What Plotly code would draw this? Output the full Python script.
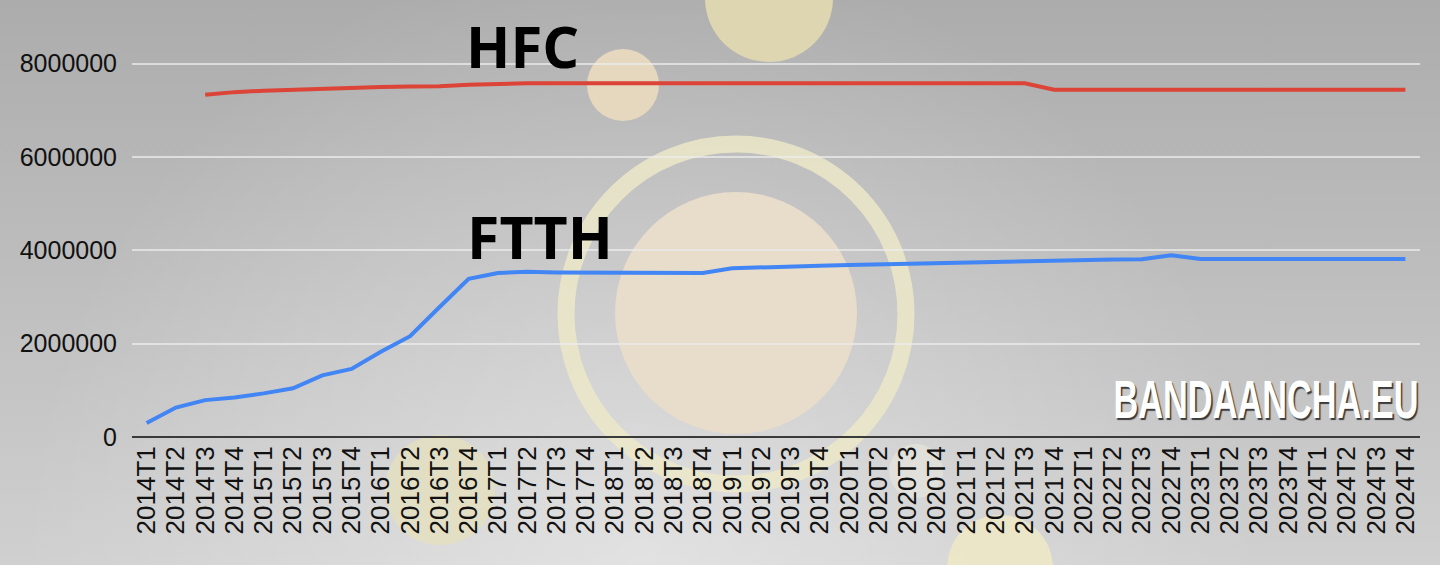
import base64
import plotly.graph_objects as go

# ---------------- data ----------------
quarters = [f"{y}T{q}" for y in range(2014, 2025) for q in range(1, 5)]

ftth = [300000, 630000, 790000, 845000, 935000, 1045000, 1320000, 1460000,
        1825000, 2160000, 2780000, 3390000, 3515000, 3540000, 3525000, 3525000,
        3525000, 3525000, 3520000, 3515000, 3615000, 3640000, 3655000, 3670000,
        3685000, 3700000, 3720000, 3735000, 3745000, 3760000, 3770000, 3790000,
        3800000, 3805000, 3810000, 3895000, 3815000, 3815000, 3815000, 3815000,
        3815000, 3815000, 3815000, 3815000]

hfc = [None, None, 7335000, 7390000, 7420000, 7445000, 7465000, 7485000,
       7500000, 7510000, 7515000, 7550000, 7570000, 7580000, 7580000, 7580000,
       7580000, 7580000, 7580000, 7580000, 7580000, 7580000, 7580000, 7580000,
       7580000, 7580000, 7580000, 7580000, 7580000, 7580000, 7580000, 7440000,
       7440000, 7440000, 7440000, 7440000, 7440000, 7440000, 7440000, 7440000,
       7440000, 7440000, 7440000, 7440000]

y_ticks = [0, 2000000, 4000000, 6000000, 8000000]

# ---------------- layout geometry ----------------
W, H = 1440, 565
ML, MR, MT, MB = 132, 20, 17, 128
PW, PH = W - ML - MR, H - MT - MB


def px(x):
    return (x - ML) / PW


def py(y):
    return (H - MB - y) / PH


# background gradient as an inline svg
svg = (
    "<svg xmlns='http://www.w3.org/2000/svg' width='1440' height='565'>"
    "<defs>"
    "<linearGradient id='v' x1='0' y1='0' x2='0' y2='1'>"
    "<stop offset='0' stop-color='#acacac'/><stop offset='1' stop-color='#d0d0d0'/>"
    "</linearGradient>"
    "<radialGradient id='r' cx='640' cy='560' r='620' gradientUnits='userSpaceOnUse'>"
    "<stop offset='0' stop-color='#ffffff' stop-opacity='0.38'/>"
    "<stop offset='1' stop-color='#ffffff' stop-opacity='0'/>"
    "</radialGradient>"
    "</defs>"
    "<rect width='1440' height='565' fill='url(#v)'/>"
    "<rect width='1440' height='565' fill='url(#r)'/>"
    "</svg>"
)
bg_src = "data:image/svg+xml;base64," + base64.b64encode(svg.encode()).decode()

fig = go.Figure()

fig.add_trace(go.Scatter(x=quarters, y=hfc, mode="lines", name="HFC",
                         line=dict(color="#db4437", width=4), connectgaps=False))
fig.add_trace(go.Scatter(x=quarters, y=ftth, mode="lines", name="FTTH",
                         line=dict(color="#4285f4", width=4)))

# decorative circles (pixel centre x, centre y, radius, fill, line colour, line width)
decor = [
    (769, -2, 64, "#ddd6b0", None, 0),
    (623, 85, 36, "#e6d7bf", None, 0),
    (736, 313, 121, "#e8dccb", None, 0),
    (736, 314, 170, None, "rgba(236,232,200,0.85)", 17),
    (440, 490, 55, "rgba(230,224,190,0.75)", None, 0),
    (1000, 568, 53, "rgba(238,232,200,0.9)", None, 0),
    (916, 471, 27, "rgba(240,238,225,0.45)", None, 0),
]
shapes = []
for cx, cy, r, fill, lc, lw in decor:
    shapes.append(dict(
        type="circle", xref="paper", yref="paper", layer="below",
        x0=px(cx - r), x1=px(cx + r), y0=py(cy + r), y1=py(cy - r),
        fillcolor=fill if fill else "rgba(0,0,0,0)",
        line=dict(color=lc if lc else "rgba(0,0,0,0)", width=lw),
    ))

annotations = [
    dict(text="HFC", x=px(522), y=py(46), xref="paper", yref="paper",
         showarrow=False, xanchor="center", yanchor="middle",
         font=dict(family="Open Sans", size=58, color="#000000", weight="bold")),
    dict(text="FTTH", x=px(540), y=py(236), xref="paper", yref="paper",
         showarrow=False, xanchor="center", yanchor="middle",
         font=dict(family="Open Sans", size=59, color="#000000", weight="bold")),
    dict(text="BANDAANCHA.EU", x=px(1420), y=py(399), xref="paper", yref="paper",
         showarrow=False, xanchor="right", yanchor="middle", align="right",
         font=dict(family="Liberation Sans, Arial, sans-serif", weight="bold",
                   size=54, color="#ffffff",
                   shadow="2px 2px 1px #3a3a3a")),
]

fig.update_layout(
    width=W, height=H,
    margin=dict(l=ML, r=MR, t=MT, b=MB, pad=0),
    paper_bgcolor="#bdbdbd",
    plot_bgcolor="rgba(0,0,0,0)",
    showlegend=False,
    font=dict(family="Liberation Sans, Arial, sans-serif", size=25, color="#111111"),
    images=[dict(source=bg_src, xref="paper", yref="paper",
                 x=px(0), y=py(0), sizex=W / PW, sizey=H / PH,
                 xanchor="left", yanchor="top", sizing="stretch", layer="below")],
    shapes=shapes,
    annotations=annotations,
    xaxis=dict(
        type="category", range=[-0.5, len(quarters) - 0.5],
        tickmode="array", tickvals=quarters, ticktext=quarters,
        tickangle=-90, showgrid=False, zeroline=False, showline=False,
        ticks="", tickfont=dict(size=26, color="#111111"),
        ticklabelstandoff=3,
    ),
    yaxis=dict(
        range=[0, 9000000], tickvals=y_ticks, tickformat="d",
        showgrid=True, gridcolor="rgba(235,235,235,0.75)", gridwidth=2,
        zeroline=True, zerolinecolor="#3a3a3a", zerolinewidth=2,
        showline=False, ticks="", tickfont=dict(size=25, color="#111111"),
        ticklabelstandoff=14,
    ),
)

# narrow the watermark horizontally (condensed look), anchored on its right edge
post = """
document.body.style.margin = '0';
document.body.style.padding = '0';
var gd = document.getElementById('{plot_id}');
gd.querySelectorAll('text.annotation-text').forEach(function (t) {
  if (t.textContent === 'BANDAANCHA.EU') {
    var g = t.parentNode;
    var b = g.getBBox();
    var s = 307 / b.width;
    var right = b.x + b.width;
    var tr = g.getAttribute('transform') || '';
    g.setAttribute('transform', tr + ' translate(' + right + ',0) scale(' + s + ',1) translate(' + (-right) + ',0)');
  }
});
"""

fig.write_html("out.html", post_script=post,
               config={"displayModeBar": False, "staticPlot": True})
